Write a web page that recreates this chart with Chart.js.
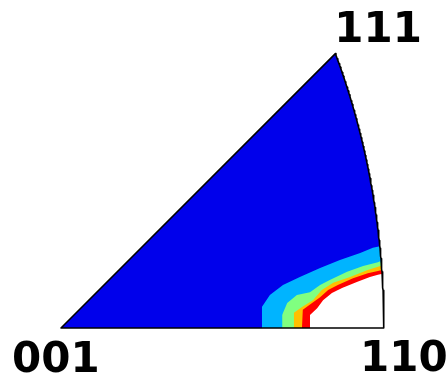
<!DOCTYPE html>
<html lang="en">

<head>
    <meta charset="UTF-8">
    <title>IPF</title>
    <script src="https://cdn.jsdelivr.net/npm/chart.js@4.4.0/dist/chart.umd.min.js"></script>
    <style>
        body { margin: 0; background: #fff; }
        #box { width: 448px; height: 379px; }
    </style>
</head>

<body>
    <div id="box">
        <canvas id="ipf" width="448" height="379"></canvas>
    </div>

<script>
    // pole labels and their positions (equal area projection, x/y)
    var poleLabels = ['001', '110', '111'];
    var poleX = [0, 0.7654, 0.650];
    var poleY = [0, 0, 0.650];

    // contour lines, from the 001-110 edge up to the 111-110 arc
    var contourLightBlue = [[0.476, 0], [0.476, 0.050], [0.495, 0.078], [0.526, 0.102], [0.566, 0.121],
        [0.614, 0.142], [0.661, 0.161], [0.709, 0.178], [0.739, 0.190], [0.753, 0.193]];
    var contourGreen = [[0.524, 0], [0.524, 0.031], [0.536, 0.059], [0.559, 0.078], [0.590, 0.085],
        [0.614, 0.102], [0.637, 0.114], [0.678, 0.133], [0.716, 0.147], [0.751, 0.156], [0.756, 0.158]];
    var contourOrange = [[0.550, 0], [0.552, 0.036], [0.571, 0.050], [0.597, 0.066], [0.618, 0.090],
        [0.645, 0.107], [0.685, 0.121], [0.725, 0.137], [0.751, 0.145], [0.757, 0.147]];
    var contourRed = [[0.571, 0], [0.573, 0.043], [0.595, 0.059], [0.614, 0.073], [0.633, 0.090],
        [0.656, 0.102], [0.692, 0.118], [0.727, 0.130], [0.751, 0.135], [0.758, 0.137]];
    var contourTop = [[0.590, 0], [0.590, 0.031], [0.607, 0.047], [0.621, 0.066], [0.642, 0.083],
        [0.666, 0.095], [0.701, 0.109], [0.732, 0.121], [0.751, 0.126], [0.759, 0.128]];

    var bandColors = ['rgb(0,0,235)', 'rgb(0,180,255)', 'rgb(128,255,128)', 'rgb(255,192,0)', 'rgb(255,0,0)', '#ffffff'];

    // great circle 111 -> 110 projected (equal area)
    function arcPoints() {
        var pts = [];
        for (var i = 0; i <= 120; i++) {
            var b = 1 - i / 120;
            var n = Math.sqrt(2 + b * b);
            var f = Math.sqrt(2 / (1 + 1 / n));
            pts.push({ x: f / n, y: f * b / n });
        }
        return pts;
    }
    var arc = arcPoints();

    function toPts(list) {
        return list.map(function (p) { return { x: p[0], y: p[1] }; });
    }

    // contour + arc below its end + 110 corner
    function region(contour) {
        var pts = toPts(contour);
        var endY = contour[contour.length - 1][1];
        arc.forEach(function (p) {
            if (p.y < endY) pts.push(p);
        });
        return pts;
    }

    var triangle = [{ x: poleX[0], y: poleY[0] }].concat(arc);
    var outline = [{ x: poleX[1], y: poleY[1] }].concat(triangle);

    var bands = [triangle, region(contourLightBlue), region(contourGreen),
        region(contourOrange), region(contourRed), region(contourTop)];

    var datasets = [{
        data: outline,
        borderColor: '#000',
        borderWidth: 1.6,
        borderJoinStyle: 'round',
        fill: false,
        pointRadius: 0,
        order: 0,
        clip: false
    }];
    bands.forEach(function (pts, i) {
        datasets.push({
            data: pts,
            borderWidth: 0,
            borderColor: 'rgba(0,0,0,0)',
            backgroundColor: bandColors[i],
            fill: 'origin',
            pointRadius: 0,
            tension: 0,
            order: 10 - i,
            clip: false
        });
    });

    // pole names drawn next to the corners
    var labelOffsets = [[-49, 44], [-24, 42.5], [-1, -12]];
    var poleNames = {
        id: 'poleNames',
        afterDraw: function (chart) {
            var ctx = chart.ctx;
            var sx = chart.scales.x, sy = chart.scales.y;
            ctx.save();
            ctx.fillStyle = '#000';
            ctx.font = 'bold 42px "DejaVu Sans"';
            ctx.textAlign = 'left';
            ctx.textBaseline = 'alphabetic';
            for (var i = 0; i < poleLabels.length; i++) {
                ctx.fillText(poleLabels[i],
                    sx.getPixelForValue(poleX[i]) + labelOffsets[i][0],
                    sy.getPixelForValue(poleY[i]) + labelOffsets[i][1]);
            }
            ctx.restore();
        }
    };

    new Chart(document.getElementById('ipf').getContext('2d'), {
        type: 'line',
        data: { datasets: datasets },
        options: {
            responsive: false,
            animation: false,
            events: [],
            layout: { padding: { left: 61, right: 64, top: 32.6, bottom: 51 } },
            plugins: { legend: { display: false }, tooltip: { enabled: false } },
            scales: {
                x: { type: 'linear', min: 0, max: 0.7654, display: false },
                y: { type: 'linear', min: 0, max: 0.70, display: false }
            }
        },
        plugins: [poleNames]
    });
</script>
</body>

</html>
